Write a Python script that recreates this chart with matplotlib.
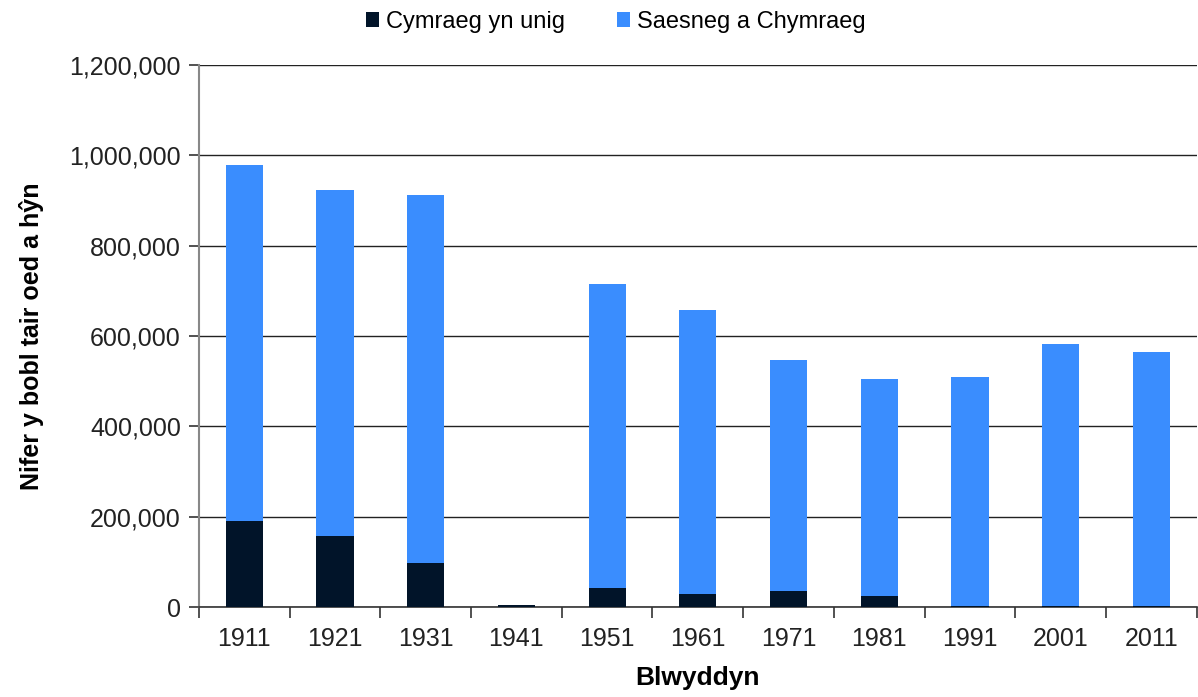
import matplotlib.pyplot as plt
import matplotlib.ticker as mticker
import numpy as np

plt.rcParams['font.family'] = ['Liberation Sans', 'DejaVu Sans']

years = ['1911', '1921', '1931', '1941', '1951', '1961', '1971', '1981', '1991', '2001', '2011']
cymraeg_yn_unig = [190000, 157000, 98000, 4000, 42000, 28000, 35000, 24000, 3000, 3000, 3000]
saesneg_a_chymraeg = [789000, 767000, 814000, 0, 673000, 629000, 512000, 481000, 506000, 580000, 561000]

dark = '#011429'
blue = '#3a8dfe'

fig = plt.figure(figsize=(11.98, 6.97), dpi=100)
ax = fig.add_axes([0.166, 0.129, 0.833, 0.778])

x = np.arange(len(years))
ax.bar(x, cymraeg_yn_unig, width=0.41, color=dark, label='Cymraeg yn unig', zorder=3)
ax.bar(x, saesneg_a_chymraeg, width=0.41, bottom=cymraeg_yn_unig, color=blue,
       label='Saesneg a Chymraeg', zorder=3)

ax.set_xlim(-0.5, len(years) - 0.5)
ax.set_ylim(0, 1200000)
ax.yaxis.set_major_locator(mticker.MultipleLocator(200000))
ax.yaxis.set_major_formatter(mticker.FuncFormatter(lambda v, p: f'{int(v):,}'))
ax.grid(axis='y', color='#222222', linewidth=1.0, zorder=0)

ax.set_xticks(x)
ax.set_xticklabels(years)
ax.set_xticks(np.arange(-0.5, len(years)), minor=True)
ax.tick_params(axis='x', which='major', length=0, pad=14, labelsize=18, labelcolor='#222222')
ax.tick_params(axis='x', which='minor', length=8, width=1.2, color='#333333', direction='out')
ax.tick_params(axis='y', length=7, width=1.2, color='#333333', labelsize=18,
               labelcolor='#222222', pad=6)

for s in ['top', 'right']:
    ax.spines[s].set_visible(False)
ax.spines['left'].set_color('#888888')
ax.spines['left'].set_linewidth(1.5)
ax.spines['bottom'].set_color('#333333')
ax.spines['bottom'].set_linewidth(1.2)

ax.set_xlabel('Blwyddyn', fontsize=19, fontweight='bold', labelpad=11)
ax.set_ylabel('Nifer y bobl tair oed a hŷn', fontsize=18, fontweight='bold', labelpad=18)

fig.legend(loc='upper center', bbox_to_anchor=(0.514, 1.015), ncol=2, frameon=False,
           fontsize=17, handlelength=0.55, handleheight=0.55, columnspacing=2.2,
           handletextpad=0.3)

plt.savefig('out.png', dpi=100)
